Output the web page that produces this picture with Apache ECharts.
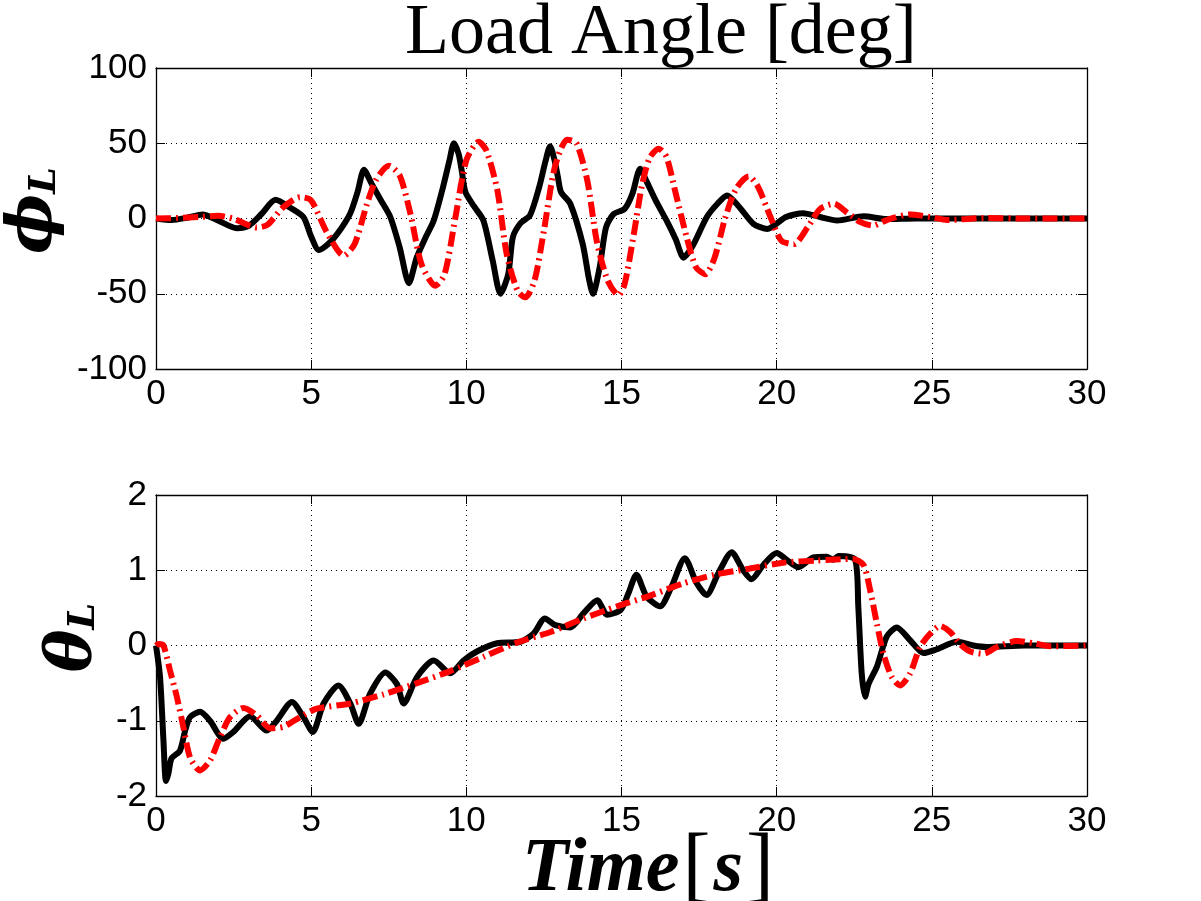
<!DOCTYPE html>
<html>
<head>
<meta charset="utf-8">
<title>Load Angle</title>
<script src="https://cdn.jsdelivr.net/npm/echarts@6/dist/echarts.min.js"></script>
<style>
  html, body { margin: 0; padding: 0; background: #fff; }
  #chart { width: 1201px; height: 901px; }
</style>
</head>
<body>
<div id="chart"></div>
<script>
// phi_L, solid black trace
const phiSolidT = [0, 0.5, 1.0, 1.5, 2.0, 2.6, 3.0, 3.4, 3.85, 4.3, 4.75, 5.0, 5.25, 5.55, 5.85, 6.25, 6.5, 6.7, 6.95, 7.25,
  7.55, 7.85, 8.15, 8.4, 8.7, 8.95, 9.25, 9.45, 9.6, 9.75, 9.85, 9.97, 10.25, 10.55, 10.85, 11.1, 11.35, 11.5, 11.75, 12.05,
  12.35, 12.55, 12.7, 12.85, 12.95, 13.05, 13.35, 13.75, 13.95, 14.08, 14.3, 14.5, 14.75, 15.1, 15.35, 15.6, 15.8, 16.1, 16.45, 16.75,
  17.0, 17.3, 17.75, 18.1, 18.4, 18.8, 19.25, 19.7, 20.3, 20.85, 21.4, 21.95, 22.8, 23.55, 24.5, 30];
const phiSolid = [0, -1, 0.5, 2.7, -1.3, -6.4, -4.7, 3, 12.4, 7.5, 1, -12, -21, -17, -10, 3, 18, 32.4, 23, 12,
  1, -19, -43, -26, -12, -1.3, 21, 38, 50, 43, 32, 17.6, 8, -1.3, -28, -50, -37, -12.4, -3, 2,
  21, 38, 48, 38, 27.6, 17.6, 9.8, -17, -40, -50, -32, -6, 3, 6.4, 16.4, 33, 25, 12, -1.3, -14,
  -26, -18, 1, 10, 15.3, 7.5, -3.5, -6.9, 1, 3.5, 1, -1.3, 1.5, -0.4, 0, 0];

// phi_L, red dash-dot trace
const phiDashT = [0, 0.7, 1.4, 2.0, 2.5, 3.25, 3.6, 4.1, 4.65, 5.0, 5.5, 6.05, 6.4, 6.8, 7.1, 7.5, 7.85, 8.2, 8.55, 9.0,
  9.3, 9.65, 10.0, 10.4, 10.65, 11.0, 11.3, 11.65, 11.9, 12.2, 12.5, 12.85, 13.25, 13.55, 13.9, 14.2, 14.55, 14.9, 15.1, 15.4,
  15.65, 15.9, 16.2, 16.45, 16.75, 17.1, 17.4, 17.7, 18.0, 18.35, 18.7, 19.1, 19.4, 19.8, 20.15, 20.55, 21.0, 21.4, 21.85, 22.25,
  22.7, 23.1, 23.55, 24.3, 24.95, 25.5, 26.8, 28, 30];
const phiDash = [0, 0.3, 1, 1.8, -0.2, -6, -4, 7.5, 14.2, 12, -9, -24.7, -17, 9.8, 26, 35, 28.7, 3, -30, -44.7,
  -37, 1, 38.7, 51, 45, 18.7, -23.6, -48, -52.4, -41, -8, 34, 52.4, 50, 25, -14.7, -41, -51, -43.6, -10,
  21, 40, 46.4, 41, 16.4, -12.4, -32.4, -37, -26, 1, 20, 28, 21, 1, -14.7, -17, -5.8, 6.4, 9.8, 4.2,
  -2.4, -4.7, -1, 2.7, 1, -1, 0.4, 0, 0];

// theta_L, solid black trace
const thetaSolidT = [0, 0.13, 0.24, 0.32, 0.4, 0.5, 0.77, 0.94, 1.1, 1.42, 1.74, 2.17, 2.49, 3.03, 3.57, 3.89, 4.38, 4.75, 5.05, 5.4,
  5.88, 6.26, 6.53, 6.9, 7.39, 7.76, 7.98, 8.41, 8.95, 9.48, 9.91, 10.34, 10.99, 11.74, 12.17, 12.53, 12.87, 13.35, 13.78, 14.22,
  14.54, 14.97, 15.22, 15.48, 15.81, 16.24, 16.61, 17.04, 17.42, 17.74, 18.12, 18.55, 18.92, 19.19, 19.57, 20.0, 20.32, 20.7, 21.18, 21.61,
  21.83, 21.99, 22.53, 22.63, 22.74, 22.85, 22.96, 23.23, 23.55, 23.87, 24.3, 24.73, 25.16, 25.81, 26.34, 26.77, 28, 30];
const thetaSolid = [0, -0.42, -1.26, -1.8, -1.7, -1.5, -1.4, -1.13, -0.95, -0.88, -1.0, -1.24, -1.15, -0.94, -1.13, -1.0, -0.75, -0.95, -1.15, -0.77,
  -0.53, -0.77, -1.04, -0.64, -0.36, -0.51, -0.77, -0.42, -0.2, -0.37, -0.2, -0.08, 0.03, 0.05, 0.16, 0.36, 0.27, 0.24, 0.43, 0.6,
  0.41, 0.47, 0.69, 0.94, 0.65, 0.52, 0.78, 1.16, 0.83, 0.67, 0.96, 1.24, 1.0, 0.88, 1.07, 1.23, 1.14, 1.04, 1.17, 1.18,
  1.14, 1.19, 1.14, 0.52, -0.37, -0.68, -0.51, -0.28, 0.12, 0.24, 0.07, -0.1, -0.05, 0.05, 0, -0.02, 0, 0];

// theta_L, red dash-dot trace
const thetaDashT = [0, 0.08, 0.24, 0.45, 0.67, 0.88, 1.1, 1.42, 1.74, 2.06, 2.39, 2.82, 3.25, 3.68, 4.11, 4.65, 5.18, 6.26, 7.33, 8.41,
  9.48, 10.56, 11.63, 12.71, 13.78, 14.86, 15.9, 16.95, 18.0, 19.1, 20.2, 21.3, 22.47, 22.8, 23.01, 23.23, 23.44, 23.71, 23.98, 24.3,
  24.62, 24.95, 25.27, 25.59, 25.91, 26.24, 26.67, 27.1, 27.74, 28.28, 28.82, 30];
const thetaDash = [0, 0.02, 0, -0.33, -0.68, -1.08, -1.49, -1.66, -1.53, -1.22, -0.95, -0.83, -0.93, -1.1, -1.08, -0.95, -0.84, -0.77, -0.65, -0.5,
  -0.34, -0.15, 0.04, 0.18, 0.36, 0.52, 0.66, 0.82, 0.94, 1.02, 1.1, 1.13, 1.15, 1.07, 0.74, 0.29, -0.11, -0.42, -0.53, -0.37,
  -0.02, 0.16, 0.26, 0.18, 0.02, -0.08, -0.11, -0.02, 0.06, 0.03, -0.01, 0];

const timeTicks = [0, 30, 5];
const phiTicks = [-100, 100, 50];
const thetaTicks = [-2, 2, 1];

const pairs = (t, v) => t.map((x, i) => [x, v[i]]);

const chartInit = () => {
  const $chartEl = document.getElementById('chart');
  const chart = echarts.init($chartEl, null, { renderer: 'canvas' });

  const tickFont = {
    color: '#000',
    fontFamily: '"Liberation Sans", Arial, sans-serif',
    fontSize: 35
  };
  const dotted = { show: true, lineStyle: { color: '#000', width: 1, type: [1, 4] } };
  const line = { show: true, onZero: false, lineStyle: { color: '#000', width: 1.3 } };
  const tick = { show: true, inside: true, length: 9, lineStyle: { color: '#000', width: 1 } };
  const mathName = {
    v: { fontFamily: '"DejaVu Serif", serif', fontStyle: 'italic', fontWeight: 'bold', fontSize: 64, color: '#000' },
    s: { fontFamily: '"DejaVu Serif", serif', fontStyle: 'italic', fontWeight: 'bold', fontSize: 38, color: '#000', padding: [22, 0, 0, 0] }
  };
  // italic letters, upright brackets, like TeX math mode
  const timeName = {
    i: { fontFamily: '"Liberation Serif", serif', fontStyle: 'italic', fontWeight: 'bold', fontSize: 76, lineHeight: 76, color: '#000' },
    b: { fontFamily: '"Liberation Serif", serif', fontStyle: 'normal', fontWeight: 'normal', fontSize: 84, lineHeight: 76, color: '#000', padding: [0, 3, 0, 3] }
  };

  const xAxes = [];
  const yAxes = [];
  [0, 1].forEach(g => {
    xAxes.push({
      type: 'value', gridIndex: g, position: 'bottom',
      min: timeTicks[0], max: timeTicks[1], interval: timeTicks[2],
      axisLine: line, axisTick: tick, splitLine: dotted,
      axisLabel: { ...tickFont, margin: 8 },
      name: g === 1 ? '{i|Time}{b|[}{i|s}{b|]}' : '',
      nameLocation: 'middle',
      nameGap: 36,
      nameMoveOverlap: false,
      nameTextStyle: { rich: timeName, padding: [0, 0, 0, 56] }
    });
    xAxes.push({
      type: 'value', gridIndex: g, position: 'top',
      min: timeTicks[0], max: timeTicks[1], interval: timeTicks[2],
      axisLine: line, axisTick: tick, splitLine: { show: false }, axisLabel: { show: false }
    });
    const yt = g === 0 ? phiTicks : thetaTicks;
    yAxes.push({
      type: 'value', gridIndex: g, position: 'left',
      min: yt[0], max: yt[1], interval: yt[2],
      axisLine: line, axisTick: tick, splitLine: dotted,
      axisLabel: { ...tickFont, margin: 9 },
      name: g === 0 ? '{v|ϕ}{s|L}' : '{v|θ}{s|L}',
      nameLocation: 'middle',
      nameRotate: 90,
      nameGap: g === 0 ? 85 : 47,
      nameTextStyle: { rich: mathName, padding: [0, 0, 0, 16] }
    });
    yAxes.push({
      type: 'value', gridIndex: g, position: 'right',
      min: yt[0], max: yt[1], interval: yt[2],
      axisLine: line, axisTick: tick, splitLine: { show: false }, axisLabel: { show: false }
    });
  });

  const solid = { color: '#000', width: 6, type: 'solid' };
  const dashDot = { color: '#ff0000', width: 6, type: [15, 5, 2, 5] };

  const option = {
    animation: false,
    backgroundColor: '#fff',
    title: {
      text: 'Load Angle [deg]',
      left: 400,
      top: -7,
      textStyle: { fontFamily: '"Liberation Serif", serif', fontWeight: 'normal', fontSize: 72, color: '#000' }
    },
    grid: [
      { left: 156, top: 68, width: 931, height: 301, outerBoundsMode: 'none', containLabel: false },
      { left: 156, top: 495, width: 931, height: 301, outerBoundsMode: 'none', containLabel: false }
    ],
    xAxis: xAxes,
    yAxis: yAxes,
    series: [
      { name: 'phi solid', type: 'line', xAxisIndex: 0, yAxisIndex: 0, data: pairs(phiSolidT, phiSolid), showSymbol: false, smooth: 0.25, lineStyle: solid },
      { name: 'phi dash', type: 'line', xAxisIndex: 0, yAxisIndex: 0, data: pairs(phiDashT, phiDash), showSymbol: false, smooth: 0.25, lineStyle: dashDot },
      { name: 'theta solid', type: 'line', xAxisIndex: 2, yAxisIndex: 2, data: pairs(thetaSolidT, thetaSolid), showSymbol: false, smooth: 0.25, lineStyle: solid },
      { name: 'theta dash', type: 'line', xAxisIndex: 2, yAxisIndex: 2, data: pairs(thetaDashT, thetaDash), showSymbol: false, smooth: 0.25, lineStyle: dashDot }
    ]
  };
  chart.setOption(option);
};

chartInit();
</script>
</body>
</html>
